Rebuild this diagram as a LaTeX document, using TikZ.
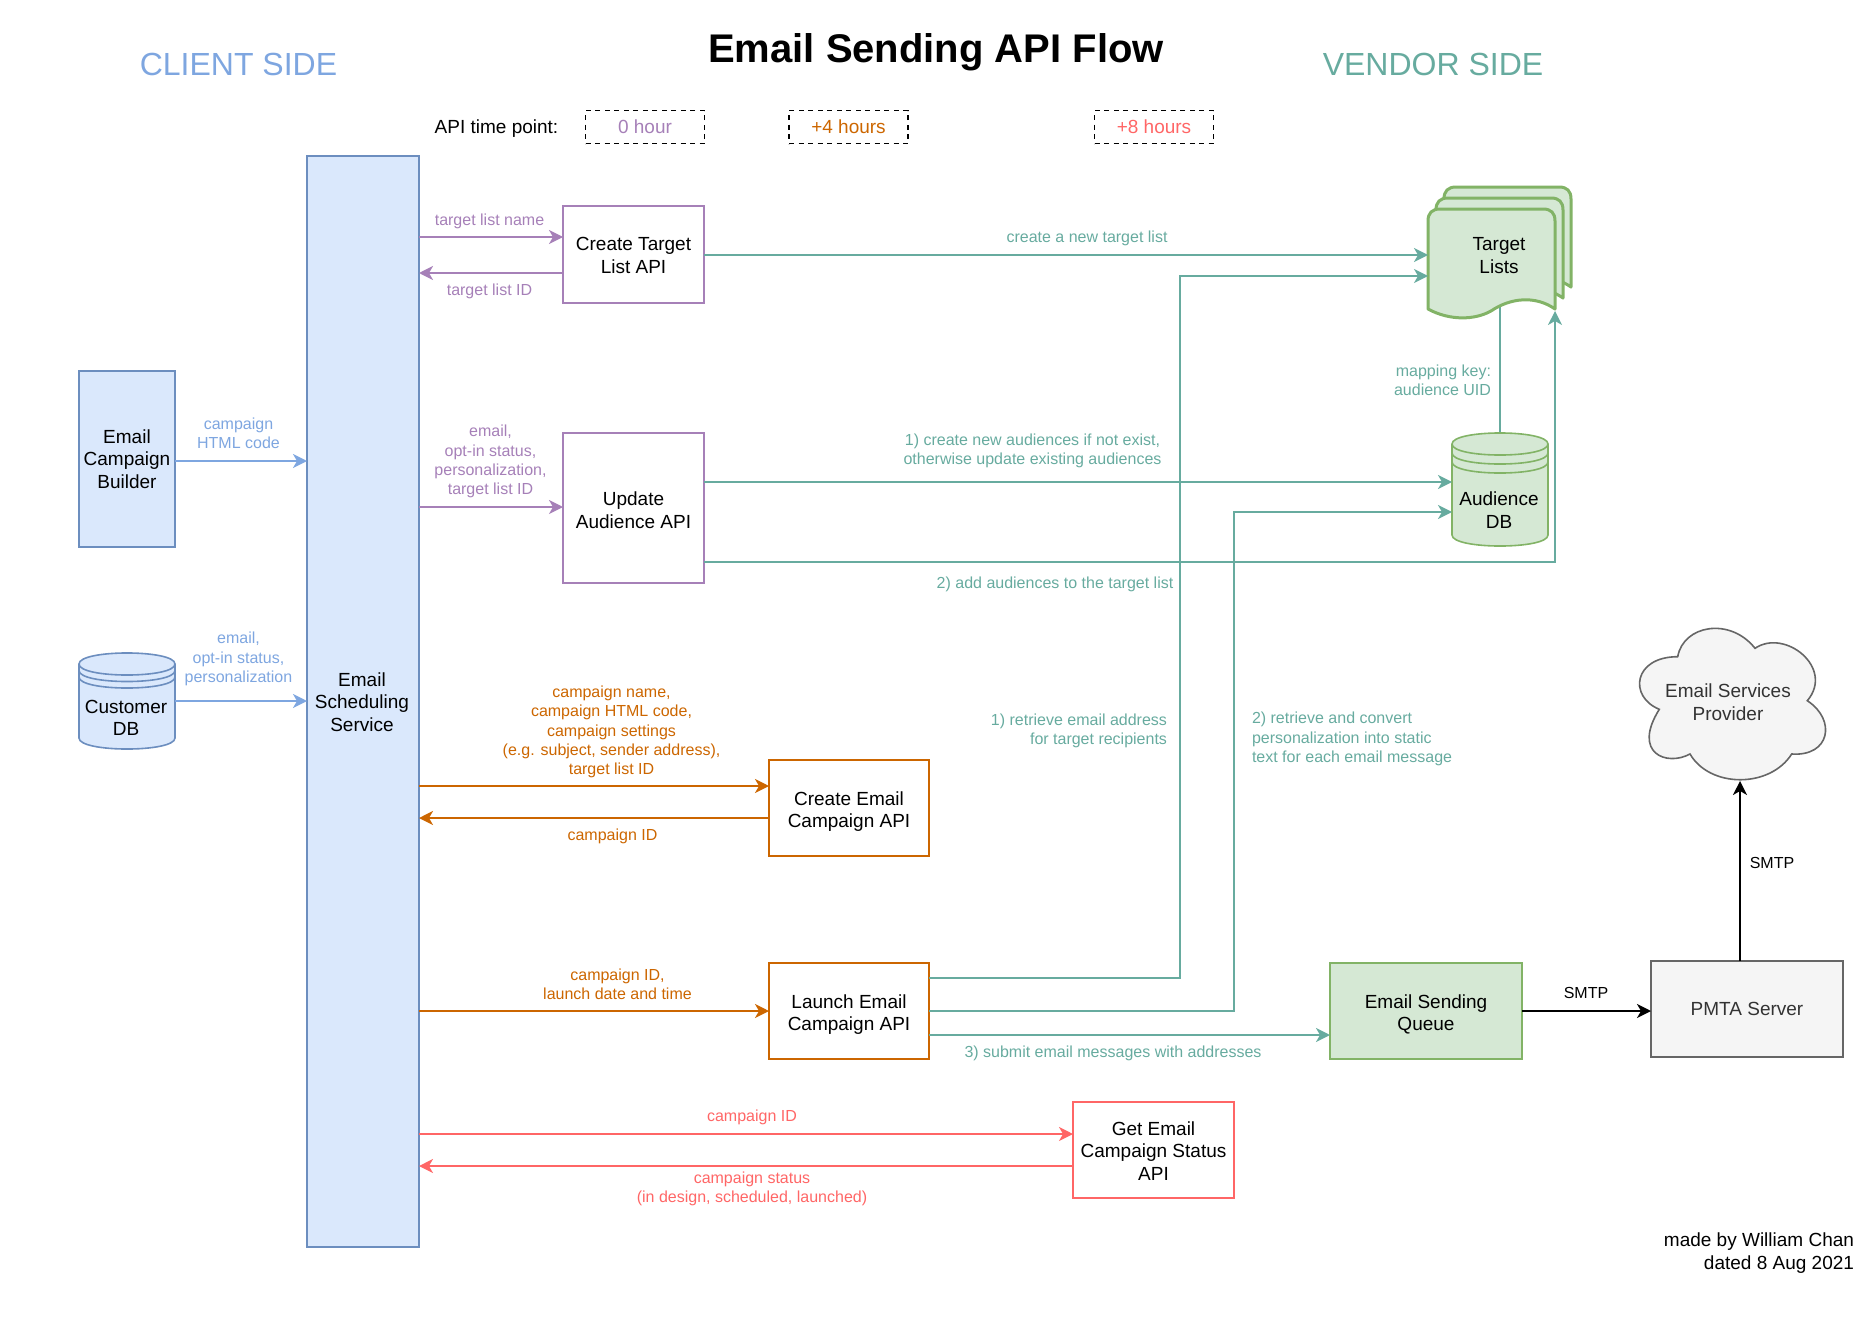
\documentclass[tikz,border=0pt]{standalone}
\usepackage{fontspec}
\setmainfont{Liberation Sans}
\usetikzlibrary{arrows.meta,calc,backgrounds}

\definecolor{blueline}{HTML}{6C8EBF}
\definecolor{bluefill}{HTML}{DAE8FC}
\definecolor{bluearrow}{HTML}{7EA6E0}
\definecolor{greenline}{HTML}{82B366}
\definecolor{greenfill}{HTML}{D5E8D4}
\definecolor{teal}{HTML}{67AB9F}
\definecolor{purpleline}{HTML}{A680B8}
\definecolor{orangeline}{HTML}{CC6600}
\definecolor{redline}{HTML}{FF6666}
\definecolor{grayline}{HTML}{666666}
\definecolor{grayfill}{HTML}{F5F5F5}
\definecolor{graytext}{HTML}{333333}

% Extra height on a box's first text line, which nudges the block of text down
\newcommand{\firstline}[1]{\rule{0pt}{#1pt}}

\tikzset{
  body/.style={font=\fontsize{19}{22.6}\selectfont,align=center,inner sep=0pt,outer sep=0pt},
  note/.style={font=\fontsize{16}{19.2}\selectfont,align=center,inner sep=0pt,outer sep=0pt},
  heading/.style={font=\fontsize{32}{38}\selectfont,inner sep=0pt},
  apibox/.style={body,draw,line width=2pt,minimum width=#1},
  apibox/.default=141pt,
  timebox/.style={body,draw=black,line width=1.7pt,dash pattern=on 5pt off 4.5pt,minimum width=119pt,minimum height=33pt},
  flow/.style={line width=2pt,-{Stealth[length=14pt,width=14pt,inset=4pt]}},
  thinflow/.style={flow,line width=1.4pt},
  pagesheet/.style={line width=3pt,draw=greenline,fill=greenfill,line join=round},
  cylshape/.style={line width=1.6pt,fill=#1},
}

% Wavy-bottomed sheet with rounded upper corners, shifted by (#1,#2)
\newcommand{\sheet}[2]{%
  \path[pagesheet,shift={(#1,#2)}]
    (1428,309) -- (1428,221) .. controls (1428,213) and (1432,209) .. (1440,209)
    -- (1543,209) .. controls (1551,209) and (1555,213) .. (1555,221) -- (1555,309)
    .. controls (1535,295) and (1510,298) .. (1491,311)
    .. controls (1475,320) and (1450,321) .. (1428,309) -- cycle;}

% Database drum: left, top, right, bottom, then the offsets of the two rings
\newcommand{\drum}[7]{%
  \path[cylshape=#5,draw=#6] (#1,#2+11) .. controls (#1,#2-3.7) and (#3,#2-3.7) .. (#3,#2+11)
    -- (#3,#4-11) .. controls (#3,#4+3.7) and (#1,#4+3.7) .. (#1,#4-11) -- cycle;
  \draw[cylshape=#5,draw=#6,fill=none]
    (#1,#2+11) .. controls (#1,#2+25.7) and (#3,#2+25.7) .. (#3,#2+11)
    (#1,#2+11+#7) .. controls (#1,#2+25.7+#7) and (#3,#2+25.7+#7) .. (#3,#2+11+#7)
    (#1,#2+11+2*#7) .. controls (#1,#2+25.7+2*#7) and (#3,#2+25.7+2*#7) .. (#3,#2+11+2*#7);}

\begin{document}
\begin{tikzpicture}[x=1pt,y=-1pt]
\useasboundingbox (0,0) rectangle (1874,1322);

% Page titles
\node[font=\fontsize{40}{48}\selectfont\bfseries,inner sep=0pt] (title) at (936,52) {Email Sending API Flow};
\node[heading,text=bluearrow] (client) at (238.5,64) {CLIENT SIDE};
\node[heading,text=teal] (vendor) at (1433,64) {VENDOR SIDE};

% Time point legend
\node[body] (timelabel) at (496.5,129) {API time point:};
\node[timebox,text=purpleline] (t0) at (645,127) {0 hour};
\node[timebox,text=orangeline] (t4) at (848.5,127) {+4 hours};
\node[timebox,text=redline] (t8) at (1154,127) {+8 hours};

% Client side
\node[body,draw=blueline,fill=bluefill,line width=2pt,minimum width=96pt,minimum height=176pt] (builder) at (127,459) {Email\\Campaign\\Builder};
\node[body,draw=blueline,fill=bluefill,line width=2pt,minimum width=112pt,minimum height=1091pt] (sched) at (363,701.5) {};
\node[body] (schedlabel) at (362,702) {Email\\Scheduling\\Service};
\drum{79}{653}{175}{749}{bluefill}{blueline}{6.5}
\node[body,minimum width=96pt,minimum height=96pt] (custdb) at (127,701) {};
\node[body] (custlabel) at (126,718) {Customer\\DB};

% API boxes
\node[apibox,draw=purpleline,minimum height=97pt] (ctapi) at (633.5,254.5) {\firstline{15.6}Create Target\\List API};
\node[apibox,draw=purpleline,minimum height=150pt] (uaapi) at (633.5,508) {\firstline{18.4}Update\\Audience API};
\node[apibox=160pt,draw=orangeline,minimum height=96pt] (ceapi) at (849,808) {\firstline{20.6}Create Email\\Campaign API};
\node[apibox=160pt,draw=orangeline,minimum height=96pt] (leapi) at (849,1011) {\firstline{20.6}Launch Email\\Campaign API};
\node[apibox=161pt,draw=redline,minimum height=96pt] (geapi) at (1153.5,1150) {\firstline{15.6}Get Email\\Campaign Status\\API};

% Vendor side stores
\sheet{16}{-22}
\sheet{8}{-11}
\sheet{0}{0}
\node[inner sep=0pt,outer sep=0pt,minimum width=127pt,minimum height=102pt] (lists) at (1491.5,260) {};
\node[body] (listslabel) at (1499,255.5) {Target\\Lists};
\drum{1452}{433}{1548}{546}{greenfill}{greenline}{9}
\node[inner sep=0pt,outer sep=0pt,minimum width=96pt,minimum height=113pt] (auddb) at (1500,489.5) {};
\node[body] (audlabel) at (1499,510) {Audience\\DB};

\node[apibox=192pt,draw=greenline,fill=greenfill,minimum height=96pt] (queue) at (1426,1011) {\firstline{20.6}Email Sending\\Queue};
\node[apibox=192pt,draw=grayline,fill=grayfill,text=graytext,minimum height=96pt] (pmta) at (1747,1009) {PMTA Server};

% Provider cloud
\path[draw=grayline,fill=grayfill,line width=1.6pt]
  (1677.7,656.7) .. controls (1683.3,625) and (1730,616.7) .. (1755,648.3)
  .. controls (1785,628) and (1835,668) .. (1807.3,700.7)
  .. controls (1836.7,720) and (1830,756.7) .. (1791.7,754)
  .. controls (1770,788.3) and (1710,788.3) .. (1690,754)
  .. controls (1666.7,766.7) and (1631.7,753.3) .. (1659.3,709.3)
  .. controls (1628.3,696.7) and (1633.3,656.7) .. (1677.7,656.7) -- cycle;
\node[body,text=graytext] (esp) at (1728,702) {Email Services\\Provider};
\coordinate (espbottom) at (1740,781);

% Link between the two stores, tucked behind the shapes
\begin{scope}[on background layer]
  \draw[teal,line width=2pt] (auddb.north) -- (auddb.north |- lists.center);
\end{scope}

% Client side feeds
\draw[flow,bluearrow] (builder.east |- 0,461) -- (sched.west |- 0,461);
\draw[flow,bluearrow] (custdb.east |- 0,701) -- (sched.west |- 0,701);
\node[note,text=bluearrow] (l1) at (238.5,433) {campaign\\HTML code};
\node[note,text=bluearrow] (l2) at (238.5,659) {email,~\\opt-in status,\\personalization};

% Purple exchanges
\draw[thinflow,purpleline] (sched.east |- 0,237) -- (ctapi.west |- 0,237);
\draw[flow,purpleline] (ctapi.west |- 0,273) -- (sched.east |- 0,273);
\draw[thinflow,purpleline] (sched.east |- 0,507) -- (uaapi.west |- 0,507);
\node[note,text=purpleline] (l3) at (489.5,221) {target list name};
\node[note,text=purpleline] (l4) at (489.5,291) {target list ID};
\node[note,text=purpleline] (l5) at (490.5,461.5) {email,~\\opt-in status,\\personalization,\\target list ID};

% Orange exchanges
\draw[flow,orangeline] (sched.east |- 0,786) -- (ceapi.west |- 0,786);
\draw[flow,orangeline] (ceapi.west |- 0,818) -- (sched.east |- 0,818);
\draw[flow,orangeline] (sched.east |- 0,1011) -- (leapi.west |- 0,1011);
\node[note,text=orangeline] (l6) at (611.5,732) {campaign name,\\campaign HTML code,\\campaign settings\\(e.g. subject, sender address),\\target list ID};
\node[note,text=orangeline] (l7) at (612.5,836) {campaign ID};
\node[note,text=orangeline] (l8) at (617.5,984) {campaign ID,\\launch date and time};

% Red exchanges
\draw[thinflow,redline] (sched.east |- 0,1134) -- (geapi.west |- 0,1134);
\draw[thinflow,redline] (geapi.west |- 0,1166) -- (sched.east |- 0,1166);
\node[note,text=redline] (l9) at (752,1117) {campaign ID};
\node[note,text=redline] (l10) at (752,1189) {campaign status\\(in design, scheduled, launched)};

% Vendor side calls
\draw[flow,teal] (ctapi.east |- 0,255) -- (lists.west |- 0,255);
\draw[flow,teal] (uaapi.east |- 0,482) -- (auddb.west |- 0,482);
\draw[thinflow,teal] (uaapi.east |- 0,562) -| (lists.south east);
\draw[thinflow,teal] (leapi.east |- 0,978) -| (1180,276) -- (lists.west |- 0,276);
\draw[flow,teal] (leapi.east |- 0,1011) -| (1234,512) -- (auddb.west |- 0,512);
\draw[flow,teal] (leapi.east |- 0,1035) -- (queue.west |- 0,1035);
\node[note,text=teal] (l11) at (1087,238) {create a new target list};
\node[note,text=teal] (l12) at (1032.5,451) {1) create new audiences if not exist,\\otherwise update existing audiences};
\node[note,text=teal] (l13) at (1055,584) {2) add audiences to the target list};
\node[note,text=teal,align=right,anchor=east] (l14) at (1491,380) {mapping key:\\audience UID};
\node[note,text=teal,align=right,anchor=east] (l15) at (1167,731) {1) retrieve email address\\for target recipients};
\node[note,text=teal,align=left,anchor=west] (l16) at (1252,739) {2) retrieve and convert\\personalization into static\\text for each email message};
\node[note,text=teal] (l17) at (1113,1053) {3) submit email messages with addresses};

% Delivery path
\draw[flow,black] (queue.east) -- (pmta.west |- queue.east);
\draw[flow,black] (espbottom |- pmta.north) -- (espbottom);
\node[note] (l18) at (1586,993) {SMTP};
\node[note] (l19) at (1772,863) {SMTP};

% Credit
\node[body,align=right,anchor=east] (credit) at (1854,1253) {made by William Chan\\dated 8 Aug 2021};
\end{tikzpicture}
\end{document}
